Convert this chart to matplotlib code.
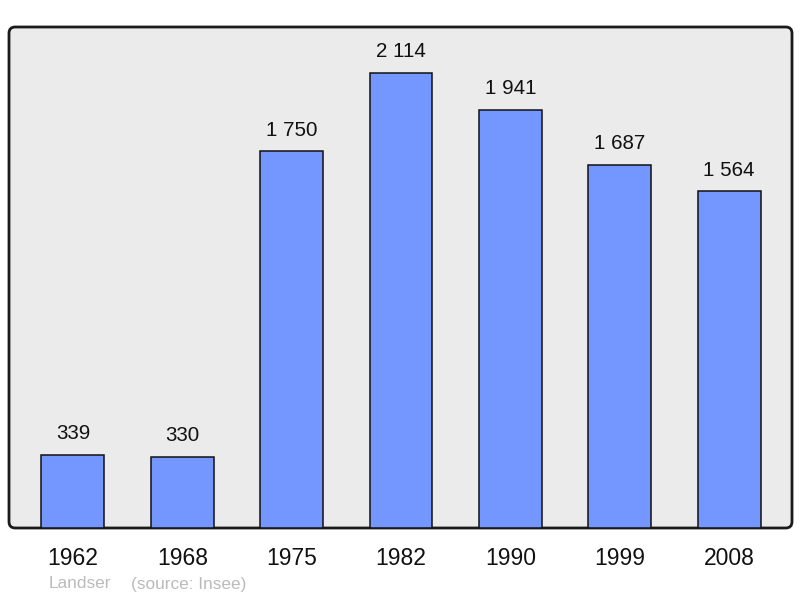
import matplotlib
matplotlib.use("Agg")
import matplotlib.pyplot as plt
from matplotlib.patches import FancyBboxPatch

years = ["1962", "1968", "1975", "1982", "1990", "1999", "2008"]
population = [339, 330, 1750, 2114, 1941, 1687, 1564]
value_labels = ["339", "330", "1 750", "2 114", "1 941", "1 687", "1 564"]

plt.rcParams['font.family'] = ['Liberation Sans', 'DejaVu Sans']

fig = plt.figure(figsize=(8, 5.98), dpi=100)
ax = fig.add_axes([9/800, 70/598, 783/800, 501/598])
ax.set_xlim(-0.585, 6.576)
ax.set_ylim(0, 2328)
ax.set_facecolor('none')
for s in ax.spines.values():
    s.set_visible(False)

bg = FancyBboxPatch((0, 0), 1, 1, boxstyle="round,pad=0,rounding_size=0.008",
                    transform=ax.transAxes, facecolor='#ebebeb', edgecolor='#1a1a1a',
                    linewidth=2, zorder=0, clip_on=False, mutation_aspect=783/501)
ax.add_patch(bg)

x = list(range(len(years)))
ax.bar(x, population, width=0.576, color='#7396ff', edgecolor='#111111', linewidth=1.1, zorder=2)
for xi, v, lab in zip(x, population, value_labels):
    ax.annotate(lab, (xi, v), xytext=(0, 8.5), textcoords='offset points',
                ha='center', va='bottom', fontsize=14.8, color='#111111')

ax.set_xticks(x)
ax.set_xticklabels(years, fontsize=16.5, color='#111111')
ax.tick_params(axis='x', length=0, pad=14)
ax.set_yticks([])

fig.text(49/800, 1 - 584/598, "Landser", fontsize=12.4, color='#bbbbbb', va='center', ha='left')
fig.text(131/800, 1 - 584/598, "(source: Insee)", fontsize=12.4, color='#bbbbbb', va='center', ha='left')

fig.savefig("out.png", dpi=100)
